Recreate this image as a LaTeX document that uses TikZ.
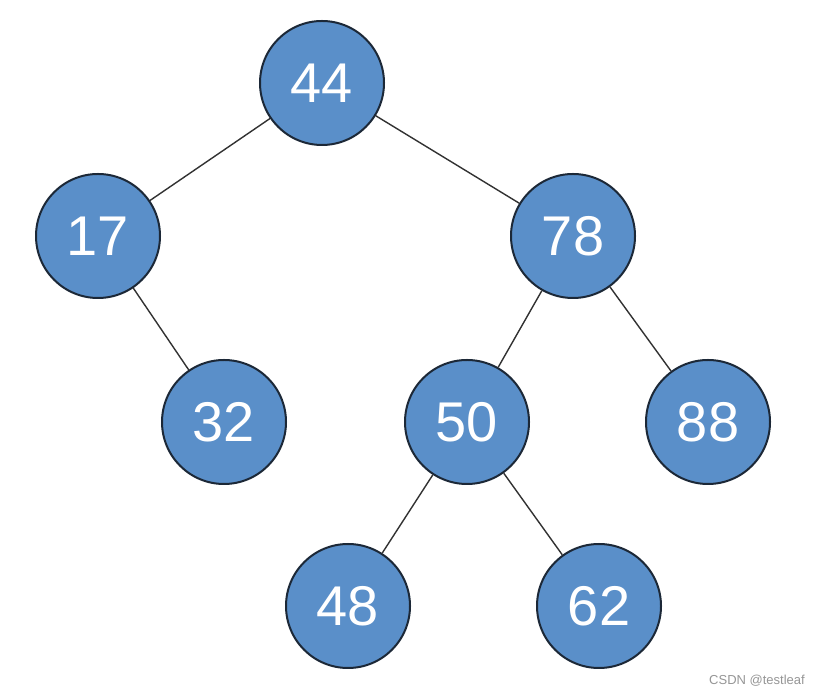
\documentclass[tikz,border=0pt]{standalone}
\usepackage{fontspec}
\setmainfont{Liberation Sans}
\definecolor{nodefill}{RGB}{90,143,201}
\definecolor{nodeedge}{RGB}{28,40,55}
\definecolor{edgecol}{RGB}{50,50,50}
\definecolor{wmark}{RGB}{150,150,150}
\begin{document}
\begin{tikzpicture}[x=1pt,y=1pt,
  tnode/.style={circle,fill=nodefill,draw=nodeedge,line width=2pt,minimum size=124pt,inner sep=0pt,text=white,font=\fontsize{56}{56}\selectfont},
  tedge/.style={draw=edgecol,line width=1.4pt}]
\useasboundingbox[fill=white] (0,0) rectangle (813,695);
\node[tnode] (n44) at (322,612) {44};
\node[tnode] (n17) at (98,459) {17};
\node[tnode] (n78) at (573,459) {78};
\node[tnode] (n32) at (224,273) {32};
\node[tnode] (n50) at (467,273) {50};
\node[tnode] (n88) at (708,273) {88};
\node[tnode] (n48) at (348,89) {48};
\node[tnode] (n62) at (599,89) {62};
\draw[tedge] (n44) -- (n17);
\draw[tedge] (n44) -- (n78);
\draw[tedge] (n17) -- (n32);
\draw[tedge] (n78) -- (n50);
\draw[tedge] (n78) -- (n88);
\draw[tedge] (n50) -- (n48);
\draw[tedge] (n50) -- (n62);
\node[text=wmark,font=\fontsize{13}{13}\selectfont] (wm) at (757,14) {CSDN @testleaf};
\end{tikzpicture}
\end{document}
